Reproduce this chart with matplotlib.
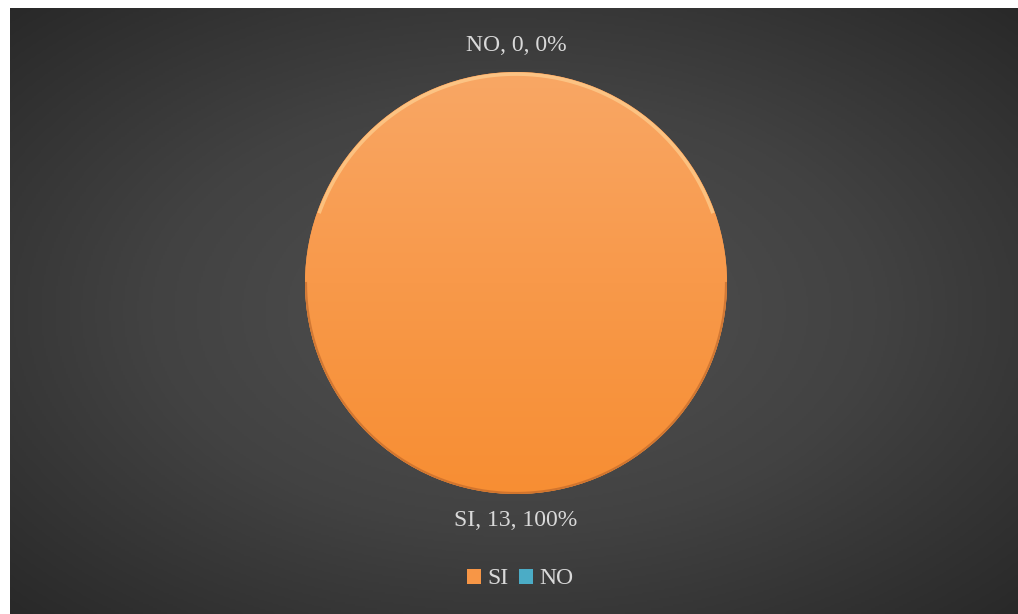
import numpy as np
import matplotlib
matplotlib.use("Agg")
import matplotlib.pyplot as plt
from matplotlib.colors import LinearSegmentedColormap

categories = ["SI", "NO"]
values = [13, 0]
colors = ["#F79646", "#4BACC6"]

W, H = 1018, 614
fig = plt.figure(figsize=(W / 100, H / 100), dpi=100)
fig.patch.set_facecolor("white")

# dark radial background of the chart area
bg = fig.add_axes([10 / W, 0, 1 - 10 / W, 1 - 8 / H])
bg.set_axis_off()
yy, xx = np.mgrid[0:1:300j, 0:1:500j]
r = np.sqrt(((xx - 0.5) / 0.72) ** 2 + ((yy - 0.5) / 0.72) ** 2)
bg_cmap = LinearSegmentedColormap.from_list("bg", ["#525252", "#424242", "#282828"])
bg.imshow(np.clip(r, 0, 1), cmap=bg_cmap, vmin=0, vmax=1, aspect="auto",
          extent=[0, 1, 0, 1], origin="lower")
bg.set_xlim(0, 1)
bg.set_ylim(0, 1)

# pie axes: centre (516, 283), radius 211 px
R = 211
cx, cy = 516, 283
ax = fig.add_axes([(cx - R) / W, (H - cy - R) / H, 2 * R / W, 2 * R / H])
ax.set_axis_off()
ax.set_facecolor("none")

total = sum(values)
wedges, _ = ax.pie(values, colors=colors, startangle=90, counterclock=False,
                   wedgeprops=dict(linewidth=0))
ax.set_xlim(-1.0, 1.0)
ax.set_ylim(-1.0, 1.0)
ax.set_aspect("equal")

# vertical shading over the orange slice
grad = np.linspace(0, 1, 256).reshape(-1, 1)
pie_cmap = LinearSegmentedColormap.from_list("pie", ["#F78E33", "#F8994A", "#F9A765"])
for w, c in zip(wedges, colors):
    if w.theta2 - w.theta1 <= 0:
        continue
    im = ax.imshow(grad, cmap=pie_cmap, extent=[-1, 1, -1, 1], origin="lower",
                   aspect="auto", zorder=2)
    im.set_clip_path(w)
# bevel: light upper rim, darker lower rim
th = np.linspace(np.deg2rad(20), np.deg2rad(160), 200)
ax.plot(0.99 * np.cos(th), 0.99 * np.sin(th), color="#FFD89A", lw=2.5, alpha=0.6, zorder=3)
th2 = np.linspace(np.pi, 2 * np.pi, 200)
ax.plot(0.995 * np.cos(th2), 0.995 * np.sin(th2), color="#B8642A", lw=1.5, alpha=0.6, zorder=3)

# data labels "Category, value, percent"
for w, cat, v in zip(wedges, categories, values):
    ang = np.deg2rad((w.theta1 + w.theta2) / 2)
    d = 1.125
    ax.text(d * np.cos(ang), d * np.sin(ang), f"{cat}, {v}, {v / total:.0%}",
            ha="center", va="center", fontsize=17, color="#D9D9D9",
            family="Liberation Serif", clip_on=False)

# legend
handles = [plt.Rectangle((0, 0), 1, 1, facecolor=c, edgecolor="none") for c in colors]
leg = fig.legend(handles, categories, loc="center", bbox_to_anchor=(520 / W, 1 - 579 / H),
                 ncol=2, frameon=False, handlelength=0.6, handleheight=0.6,
                 handletextpad=0.25, columnspacing=0.45,
                 prop=dict(family="Liberation Serif", size=17))
for t in leg.get_texts():
    t.set_color("#D9D9D9")

fig.savefig("out.png", dpi=100, facecolor=fig.get_facecolor())
